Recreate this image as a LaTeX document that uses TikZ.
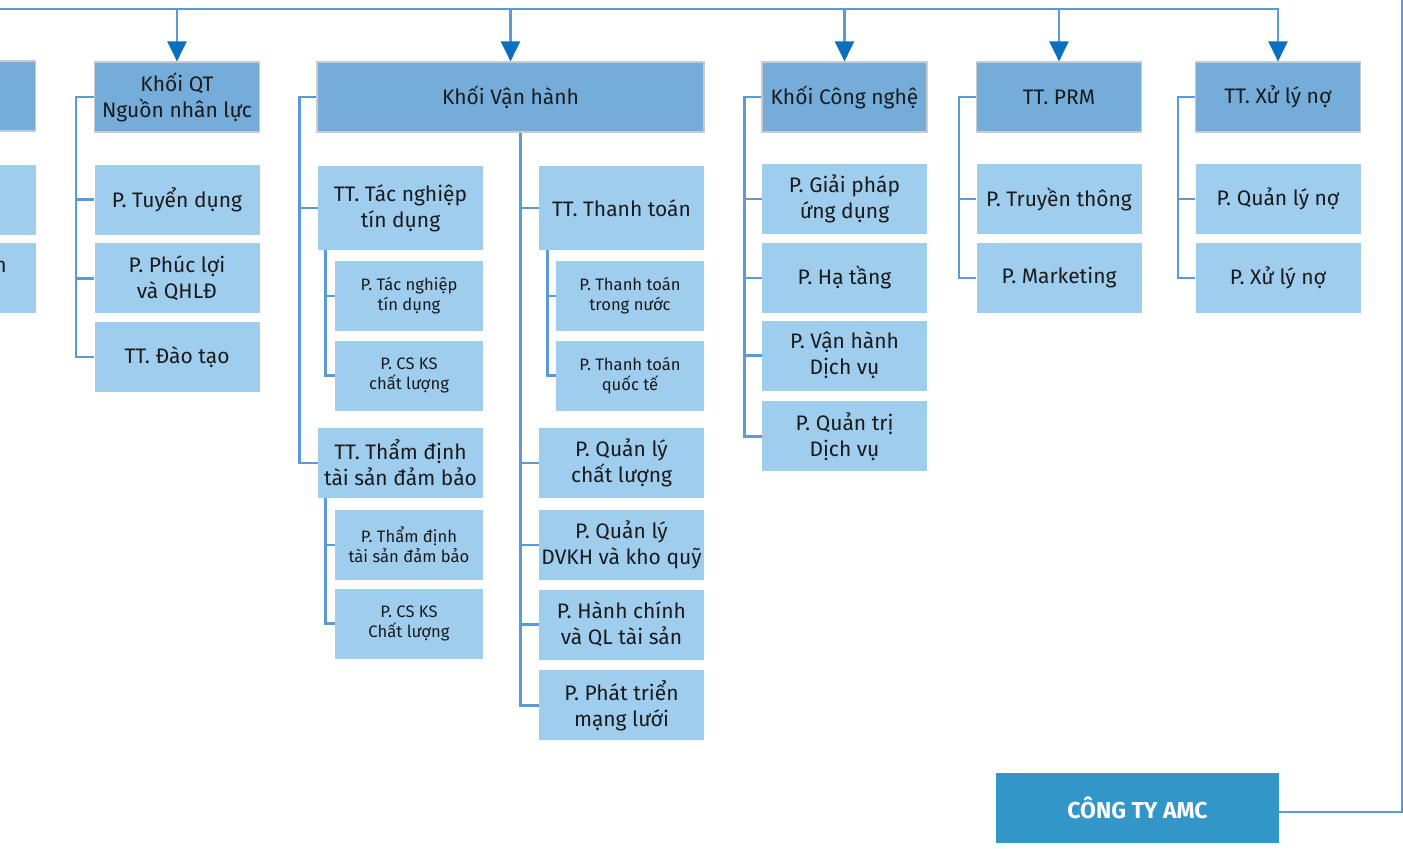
\documentclass[tikz,border=0pt]{standalone}
\usepackage{fontspec}
\setmainfont{Fira Sans}
\usetikzlibrary{positioning,arrows.meta}

\definecolor{hdrblue}{HTML}{74ADDA}
\definecolor{hdredge}{HTML}{C6CCD2}
\definecolor{subblue}{HTML}{9ECDEE}
\definecolor{amcblue}{HTML}{3396C9}
\definecolor{lineblue}{HTML}{5B9BD5}
\definecolor{tipblue}{HTML}{0A6FBF}
\definecolor{txt}{HTML}{1A1A1A}

\tikzset{
  box/.style={rectangle,inner sep=0pt,align=center,text=txt,
    font=\fontsize{10.5}{13}\selectfont,minimum width=82.5pt,minimum height=35pt},
  hdr/.style={box,fill=hdrblue,draw=hdredge,line width=0.6pt},
  unit/.style={box,fill=subblue},
  small/.style={unit,minimum width=74pt,font=\fontsize{8.3}{10}\selectfont},
  link/.style={draw=lineblue,line width=1.2pt},
  feed/.style={link,-{Triangle[width=9.5pt,length=10pt,color=tipblue]}}
}

\begin{document}
\begin{tikzpicture}[x=0.5pt,y=-0.5pt,node distance=4.5pt]
    \path[use as bounding box,fill=white] (0,0) rectangle (1403,848);

    % cut-off column on the left
    \node[hdr] (xh) at (-47,96) {};
    \node[unit] (xa) at (-47,199.5) {};
    \node[unit,below=4pt of xa] (xb) {};
    \node[box,minimum width=0pt,minimum height=0pt,anchor=base east] (xbt) at (7,272) {n};

    % Khoi QT Nguon nhan luc
    \node[hdr] (qt) at (177,97) {Khối QT\\Nguồn nhân lực};
    \node[unit] (qt1) at (177,199.5) {P. Tuyển dụng};
    \node[unit,below=4pt of qt1] (qt2) {P. Phúc lợi\\và QHLĐ};
    \node[unit,below=4pt of qt2] (qt3) {TT. Đào tạo};

    % Khoi Van hanh
    \node[hdr,minimum width=193.5pt] (vh) at (510.5,97) {Khối Vận hành};
    \node[unit,minimum height=42pt] (tn) at (400.5,208) {TT. Tác nghiệp\\tín dụng};
    \node[small,below=5pt of tn.south east,anchor=north east] (tn1) {P. Tác nghiệp\\tín dụng};
    \node[small,below=of tn1] (tn2) {P. CS KS\\chất lượng};
    \node[unit] (td) at (400.5,463) {TT. Thẩm định\\tài sản đảm bảo};
    \node[small,below=5.5pt of td.south east,anchor=north east] (td1) {P. Thẩm định\\tài sản đảm bảo};
    \node[small,below=4pt of td1] (td2) {P. CS KS\\Chất lượng};
    \node[unit,minimum height=42pt] (tt) at (621.5,208) {TT. Thanh toán};
    \node[small,below=5pt of tt.south east,anchor=north east] (tt1) {P. Thanh toán\\trong nước};
    \node[small,below=of tt1] (tt2) {P. Thanh toán\\quốc tế};
    \node[unit] (ql) at (621.5,463) {P. Quản lý\\chất lượng};
    \node[unit,below=5.5pt of ql] (kq) {P. Quản lý\\DVKH và kho quỹ};
    \node[unit,below=4.5pt of kq] (hc) {P. Hành chính\\và QL tài sản};
    \node[unit,below=5pt of hc] (ml) {P. Phát triển\\mạng lưới};

    % Khoi Cong nghe
    \node[hdr] (cn) at (844.5,97) {Khối Công nghệ};
    \node[unit] (cn1) at (844.5,199) {P. Giải pháp\\ứng dụng};
    \node[unit,below=4pt of cn1] (cn2) {P. Hạ tầng};
    \node[unit,below=3.5pt of cn2] (cn3) {P. Vận hành\\Dịch vụ};
    \node[unit,below=5pt of cn3] (cn4) {P. Quản trị\\Dịch vụ};

    % TT. PRM
    \node[hdr] (prm) at (1059,97) {TT. PRM};
    \node[unit] (prm1) at (1059,199) {P. Truyền thông};
    \node[unit,below=4pt of prm1] (prm2) {P. Marketing};

    % TT. Xu ly no
    \node[hdr] (xl) at (1278,97) {TT. Xử lý nợ};
    \node[unit] (xl1) at (1278,199) {P. Quản lý nợ};
    \node[unit,below=4pt of xl1] (xl2) {P. Xử lý nợ};

    \node[box,fill=amcblue,text=white,font=\bfseries\fontsize{11.5}{14}\selectfont,
      minimum width=141.5pt] (amc) at (1137.5,808) {CÔNG TY AMC};

    % top bus and feeds
    \coordinate (busL) at (-5,9);
    \coordinate (busR) at (1279,9);
    \coordinate (topR) at (1402,-5);
    \draw[link] (busL) -- (busR);
    \draw[link] ([yshift=-2pt]amc.east) -| (topR);
    \foreach \b in {qt,vh,cn,prm,xl}
        \draw[feed] (\b.north |- busL) -- (\b.north);

    % spines
    \coordinate (qtL) at ([xshift=-9pt]qt.west);
    \draw[link] (qt.west) -- (qtL) |- (qt3.west);
    \draw[link] (qtL |- qt1.west) -- (qt1.west) (qtL |- qt2.west) -- (qt2.west);

    \coordinate (vhL) at ([xshift=-8.5pt]vh.west);
    \draw[link] (vh.west) -- (vhL) |- (td.west);
    \draw[link] (vhL |- tn.west) -- (tn.west);
    \coordinate (vhM) at ([xshift=-9pt]tt.west);
    \draw[link] (vhM |- vh.south) |- (ml.west);
    \draw[link] (vhM |- tt.west) -- (tt.west) (vhM |- ql.west) -- (ql.west)
        (vhM |- kq.west) -- (kq.west) (vhM |- hc.west) -- (hc.west);

    \coordinate (tnS) at ([xshift=4pt]tn.south west);
    \draw[link] (tnS) |- (tn2.west) (tnS |- tn1.west) -- (tn1.west);
    \coordinate (tdS) at ([xshift=4pt]td.south west);
    \draw[link] (tdS) |- (td2.west) (tdS |- td1.west) -- (td1.west);
    \coordinate (ttS) at ([xshift=4.5pt]tt.south west);
    \draw[link] (ttS) |- (tt2.west) (ttS |- tt1.west) -- (tt1.west);

    \coordinate (cnL) at ([xshift=-8.5pt]cn.west);
    \draw[link] (cn.west) -- (cnL) |- (cn4.west);
    \draw[link] (cnL |- cn1.west) -- (cn1.west) (cnL |- cn2.west) -- (cn2.west)
        (cnL |- cn3.west) -- (cn3.west);

    \coordinate (prmL) at ([xshift=-8.5pt]prm.west);
    \draw[link] (prm.west) -- (prmL) |- (prm2.west) (prmL |- prm1.west) -- (prm1.west);

    \coordinate (xlL) at ([xshift=-8.5pt]xl.west);
    \draw[link] (xl.west) -- (xlL) |- (xl2.west) (xlL |- xl1.west) -- (xl1.west);
\end{tikzpicture}
\end{document}
